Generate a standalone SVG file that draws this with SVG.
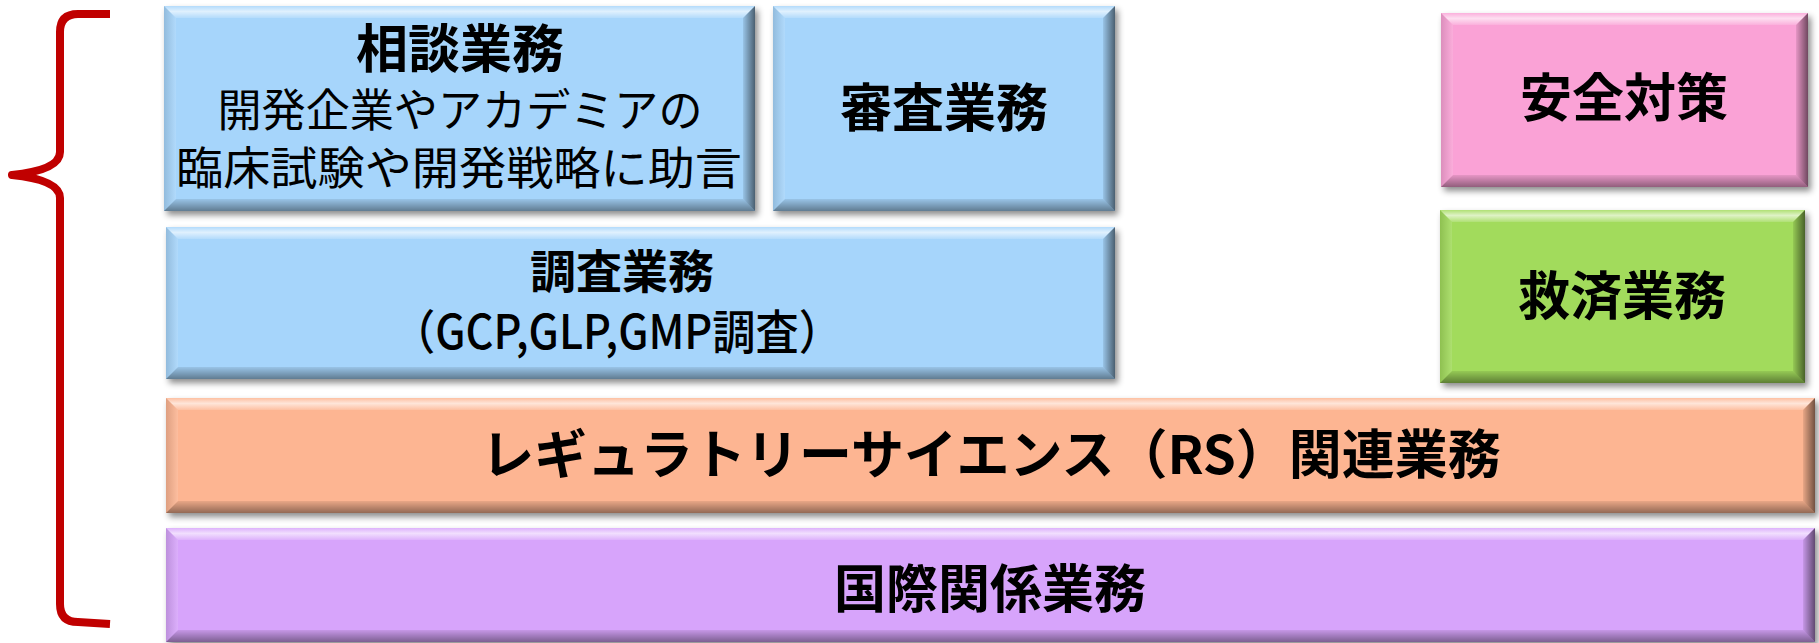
<svg xmlns="http://www.w3.org/2000/svg" width="1819" height="643" viewBox="0 0 1819 643">
<defs>
  <filter id="sh" x="-5%" y="-10%" width="110%" height="125%">
    <feDropShadow dx="3" dy="4" stdDeviation="3" flood-color="#000" flood-opacity="0.45"/>
  </filter>
  <linearGradient id="gTop" x1="0" y1="0" x2="0" y2="1">
    <stop offset="0" stop-color="#fff" stop-opacity="0.15"/>
    <stop offset="0.45" stop-color="#fff" stop-opacity="0.65"/>
    <stop offset="1" stop-color="#fff" stop-opacity="0.15"/>
  </linearGradient>
  <linearGradient id="gBot" x1="0" y1="0" x2="0" y2="1">
    <stop offset="0" stop-color="#000" stop-opacity="0.08"/>
    <stop offset="1" stop-color="#000" stop-opacity="0.42"/>
  </linearGradient>
  <linearGradient id="gRight" x1="0" y1="0" x2="1" y2="0">
    <stop offset="0" stop-color="#000" stop-opacity="0.08"/>
    <stop offset="1" stop-color="#000" stop-opacity="0.55"/>
  </linearGradient>
  <linearGradient id="gLeft" x1="0" y1="0" x2="1" y2="0">
    <stop offset="0" stop-color="#000" stop-opacity="0.12"/>
    <stop offset="1" stop-color="#fff" stop-opacity="0.12"/>
  </linearGradient>
</defs>
<style>
  .box { filter: url(#sh); }
  .blue { fill: #A6D5FB; }
  .pink { fill: #FAA2D6; }
  .green { fill: #A2DB5B; }
  .orange { fill: #FDB592; }
  .purple { fill: #D7A4FB; }
  .bt { fill: url(#gTop); }
  .bb { fill: url(#gBot); }
  .br { fill: url(#gRight); }
  .bl { fill: url(#gLeft); }
  text { font-family: "Noto Sans CJK JP", "Noto Sans", sans-serif; fill: #000; text-anchor: middle; }
  .t { font-weight: 700; font-size: 52px; }
  .s { font-weight: 400; font-size: 45px; }
  .m { font-weight: 700; font-size: 46px; }
  .g { font-weight: 500; font-size: 47px; }
  .brace { fill: none; stroke: #C00000; stroke-width: 8; stroke-linejoin: round; }
</style>

<g id="brace">
  <path class="brace" d="M110,14 L78,14 Q60,14 60,32 L60,152 Q60,170 12,175 Q60,180 60,198 L60,604 Q60,622 78,622 L110,624"/>
</g>

<g id="soudan">
  <rect class="box blue" x="164" y="6" width="591" height="205"/>
  <polygon class="bt" points="164,6 755,6 743,18 176,18"/>
  <polygon class="bl" points="164,6 176,18 176,199 164,211"/>
  <polygon class="br" points="755,6 755,211 743,199 743,18"/>
  <polygon class="bb" points="164,211 176,199 743,199 755,211"/>
  <text class="t" x="460" y="68">相談業務</text>
  <text class="s" x="460" y="127" textLength="485" lengthAdjust="spacingAndGlyphs">開発企業やアカデミアの</text>
  <text class="s" x="459" y="185" textLength="566" lengthAdjust="spacingAndGlyphs">臨床試験や開発戦略に助言</text>
</g>

<g id="shinsa">
  <rect class="box blue" x="773" y="6" width="342" height="205"/>
  <polygon class="bt" points="773,6 1115,6 1103,18 785,18"/>
  <polygon class="bl" points="773,6 785,18 785,199 773,211"/>
  <polygon class="br" points="1115,6 1115,211 1103,199 1103,18"/>
  <polygon class="bb" points="773,211 785,199 1103,199 1115,211"/>
  <text class="t" x="944" y="127">審査業務</text>
</g>

<g id="chousa">
  <rect class="box blue" x="166" y="227" width="949" height="152"/>
  <polygon class="bt" points="166,227 1115,227 1103,239 178,239"/>
  <polygon class="bl" points="166,227 178,239 178,367 166,379"/>
  <polygon class="br" points="1115,227 1115,379 1103,367 1103,239"/>
  <polygon class="bb" points="166,379 178,367 1103,367 1115,379"/>
  <text class="m" x="622" y="288">調査業務</text>
  <text class="g" x="617" y="349" textLength="450" lengthAdjust="spacingAndGlyphs">（GCP,GLP,GMP調査）</text>
</g>

<g id="anzen">
  <rect class="box pink" x="1441" y="13" width="367" height="174"/>
  <polygon class="bt" points="1441,13 1808,13 1796,25 1453,25"/>
  <polygon class="bl" points="1441,13 1453,25 1453,175 1441,187"/>
  <polygon class="br" points="1808,13 1808,187 1796,175 1796,25"/>
  <polygon class="bb" points="1441,187 1453,175 1796,175 1808,187"/>
  <text class="t" x="1624" y="117">安全対策</text>
</g>

<g id="kyusai">
  <rect class="box green" x="1440" y="210" width="365" height="173"/>
  <polygon class="bt" points="1440,210 1805,210 1793,222 1452,222"/>
  <polygon class="bl" points="1440,210 1452,222 1452,371 1440,383"/>
  <polygon class="br" points="1805,210 1805,383 1793,371 1793,222"/>
  <polygon class="bb" points="1440,383 1452,371 1793,371 1805,383"/>
  <text class="t" x="1622" y="315">救済業務</text>
</g>

<g id="rs">
  <rect class="box orange" x="166" y="398" width="1649" height="115"/>
  <polygon class="bt" points="166,398 1815,398 1803,410 178,410"/>
  <polygon class="bl" points="166,398 178,410 178,501 166,513"/>
  <polygon class="br" points="1815,398 1815,513 1803,501 1803,410"/>
  <polygon class="bb" points="166,513 178,501 1803,501 1815,513"/>
  <text class="t" x="991" y="474" style="font-size:53px">レギュラトリーサイエンス（RS）関連業務</text>
</g>

<g id="kokusai">
  <rect class="box purple" x="166" y="528" width="1649" height="114"/>
  <polygon class="bt" points="166,528 1815,528 1803,540 178,540"/>
  <polygon class="bl" points="166,528 178,540 178,630 166,642"/>
  <polygon class="br" points="1815,528 1815,642 1803,630 1803,540"/>
  <polygon class="bb" points="166,642 178,630 1803,630 1815,642"/>
  <text class="t" x="990" y="608">国際関係業務</text>
</g>

<g id="connectors"></g>
</svg>
